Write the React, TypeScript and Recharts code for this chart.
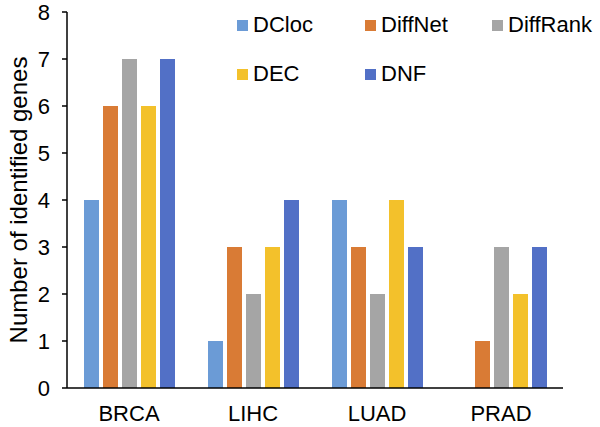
import React from 'react';
import { BarChart, Bar, XAxis, YAxis } from 'recharts';

const categories = ['BRCA', 'LIHC', 'LUAD', 'PRAD'];
const seriesNames = ['DCloc', 'DiffNet', 'DiffRank', 'DEC', 'DNF'];
const dcloc = [4, 1, 4, 0];
const diffnet = [6, 3, 3, 1];
const diffrank = [7, 2, 2, 3];
const dec = [6, 3, 4, 2];
const dnf = [7, 4, 3, 3];
const yTicks = [0, 1, 2, 3, 4, 5, 6, 7, 8];
const colors = ['#6b9bd6', '#d97b35', '#a5a5a5', '#f3c12b', '#5270c6'];

const seriesValues = [dcloc, diffnet, diffrank, dec, dnf];
const data = categories.map((c, i) => {
  const row: Record<string, any> = { name: c };
  seriesNames.forEach((s, j) => {
    row[s] = seriesValues[j][i];
  });
  return row;
});

const FONT = '"Liberation Sans", Arial, sans-serif';

const LegendBox = () => {
  const cols = [0, 128, 255];
  const rows = [0, 49];
  return (
    <div style={{ position: 'absolute', left: 237, top: 13, width: 363, height: 80, fontFamily: FONT, fontSize: 22, color: '#000' }}>
      {seriesNames.map((s, i) => {
        const col = i % 3;
        const row = Math.floor(i / 3);
        return (
          <div key={s} style={{ position: 'absolute', left: cols[col], top: rows[row], display: 'flex', alignItems: 'center', height: 24, whiteSpace: 'nowrap' }}>
            <div style={{ width: 11, height: 11, background: colors[i], marginRight: 5 }} />
            <span style={{ lineHeight: '24px' }}>{s}</span>
          </div>
        );
      })}
    </div>
  );
};

const YLabel = () => (
  <text
    x={18}
    y={200}
    transform="rotate(-90,18,200)"
    textAnchor="middle"
    dominantBaseline="central"
    fontFamily={FONT}
    fontSize={24}
    fill="#000"
  >
    Number of identified genes
  </text>
);

export default function App() {
  return (
    <div style={{ position: 'absolute', left: 0, top: 0, width: 600, height: 427, background: '#fff' }}>
      <BarChart
        width={600}
        height={427}
        data={data}
        margin={{ top: 12, right: 37, bottom: 0, left: 0 }}
        barSize={15}
        barGap={4}
      >
        <XAxis
          dataKey="name"
          height={39}
          axisLine={{ stroke: '#000', strokeWidth: 1.5 }}
          tickLine={false}
          tickSize={0}
          tickMargin={17}
          tick={{ fill: '#000', fontSize: 22, fontFamily: FONT }}
          interval={0}
        />
        <YAxis
          width={67}
          domain={[0, 8]}
          ticks={yTicks}
          interval={0}
          axisLine={{ stroke: '#000', strokeWidth: 1.5 }}
          tickLine={{ stroke: '#000', strokeWidth: 1.5 }}
          tickSize={5}
          tickMargin={12}
          tick={{ fill: '#000', fontSize: 22, fontFamily: FONT }}
          label={<YLabel />}
        />
        {seriesNames.map((s, i) => (
          <Bar key={s} dataKey={s} fill={colors[i]} isAnimationActive={false} />
        ))}
      </BarChart>
      <LegendBox />
    </div>
  );
}
